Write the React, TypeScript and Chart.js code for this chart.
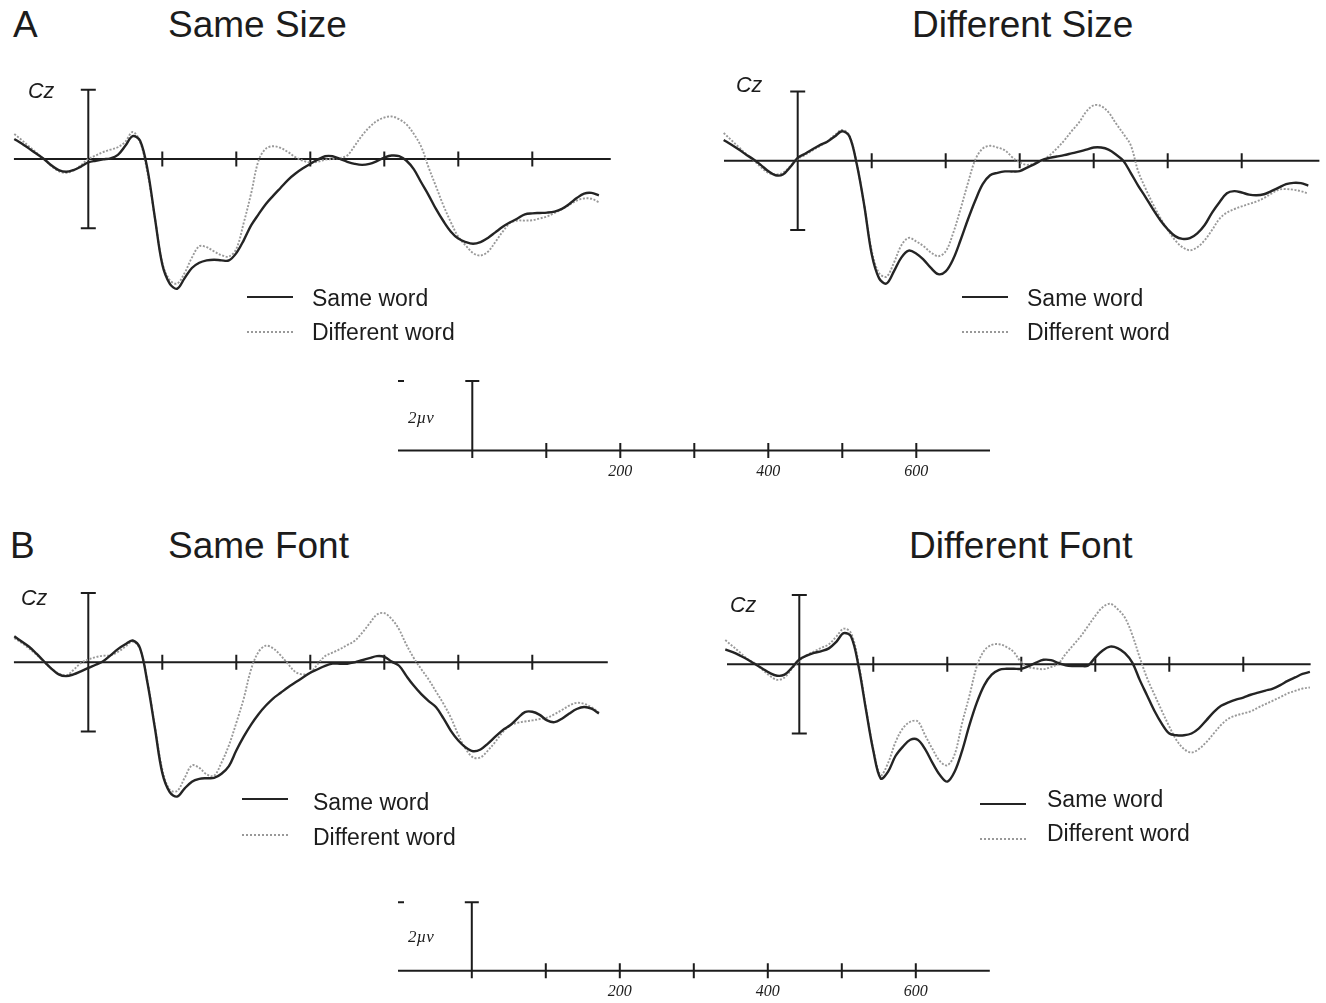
import React, { useEffect, useRef } from "react";
import { Chart, registerables } from "chart.js";
Chart.register(...registerables);

// ---------- data ----------
const timesMs = [
  -100, -90, -80, -70, -60, -50, -40, -30, -20, -10,
  0, 10, 20, 30, 40, 50, 60, 70, 80, 90,
  100, 110, 120, 130, 140, 150, 160, 170, 180, 190,
  200, 210, 220, 230, 240, 250, 260, 270, 280, 290,
  300, 310, 320, 330, 340, 350, 360, 370, 380, 390,
  400, 410, 420, 430, 440, 450, 460, 470, 480, 490,
  500, 510, 520, 530, 540, 550, 560, 570, 580, 590,
  600, 610, 620, 630, 640, 650, 660, 670, 680, 690,
];
const axisTicksMs = [100, 200, 300, 400, 500, 600];
const scaleTickLabels = [200, 400, 600];
const seriesNames = ["Same word", "Different word"];

const sameSizeSameWord = [
  0.58, 0.45, 0.3, 0.15, 0.0, -0.18, -0.32, -0.37, -0.32, -0.22,
  -0.1, -0.05, -0.01, 0.02, 0.12, 0.38, 0.66, 0.53, -0.3, -1.7,
  -3.05, -3.6, -3.75, -3.45, -3.15, -3.0, -2.93, -2.91, -2.93, -2.93,
  -2.72, -2.35, -1.92, -1.6, -1.3, -1.06, -0.83, -0.6, -0.42, -0.27,
  -0.14, -0.02, 0.08, 0.08, 0.0, -0.08, -0.14, -0.17, -0.14, -0.06,
  0.04, 0.1, 0.08, -0.05, -0.3, -0.68, -1.05, -1.45, -1.8, -2.1,
  -2.3, -2.4, -2.45, -2.4, -2.28, -2.12, -1.96, -1.83, -1.72, -1.6,
  -1.57, -1.56, -1.55, -1.52, -1.44, -1.3, -1.13, -1.0, -0.98, -1.05,
];
const sameSizeDiffWord = [
  0.72, 0.55, 0.36, 0.18, 0.0, -0.2, -0.35, -0.4, -0.33, -0.18,
  0.0, 0.1, 0.2, 0.27, 0.34, 0.5, 0.78, 0.5, -0.4, -1.7,
  -3.0, -3.5, -3.6, -3.3, -2.85, -2.52, -2.55, -2.67, -2.78, -2.82,
  -2.6, -1.85, -1.0, -0.05, 0.3, 0.37, 0.32, 0.2, 0.05, -0.05,
  -0.1, -0.08, -0.02, 0.0, 0.03, 0.1, 0.38, 0.68, 0.92, 1.1,
  1.2, 1.23, 1.15, 1.0, 0.72, 0.35, -0.25, -0.8, -1.35, -1.83,
  -2.25, -2.5, -2.72, -2.79, -2.68, -2.4, -2.1, -1.85, -1.78, -1.78,
  -1.77, -1.72, -1.66, -1.56, -1.45, -1.33, -1.2, -1.14, -1.15, -1.25,
];
const diffSizeSameWord = [
  0.6, 0.47, 0.33, 0.18, 0.04, -0.12, -0.3, -0.42, -0.4, -0.18,
  0.08, 0.2, 0.33, 0.45, 0.55, 0.7, 0.85, 0.7, -0.12, -1.3,
  -2.7, -3.4, -3.55, -3.2, -2.8, -2.6, -2.68, -2.86, -3.1, -3.28,
  -3.2, -2.85, -2.3, -1.7, -1.15, -0.68, -0.42, -0.35, -0.31, -0.31,
  -0.3, -0.2, -0.1, 0.02, 0.08, 0.12, 0.16, 0.21, 0.26, 0.32,
  0.38, 0.38, 0.32, 0.18, 0.0, -0.35, -0.72, -1.05, -1.4, -1.72,
  -1.98, -2.18, -2.26, -2.24, -2.1, -1.86, -1.5, -1.2, -0.94, -0.88,
  -0.92, -0.98, -1.0, -0.97, -0.88, -0.78, -0.68, -0.64, -0.65, -0.72,
];
const diffSizeDiffWord = [
  0.8, 0.6, 0.4, 0.2, 0.02, -0.18, -0.35, -0.4, -0.35, -0.16,
  0.05, 0.17, 0.3, 0.42, 0.56, 0.74, 0.89, 0.72, -0.1, -1.3,
  -2.6, -3.25, -3.35, -2.95, -2.45, -2.23, -2.33, -2.47, -2.65, -2.76,
  -2.62, -2.1, -1.4, -0.65, 0.03, 0.35, 0.43, 0.38, 0.3, 0.1,
  -0.05, -0.12, -0.08, 0.0, 0.15, 0.35, 0.58, 0.85, 1.1, 1.42,
  1.6, 1.58, 1.4, 1.08, 0.78, 0.45, -0.3, -0.8, -1.25, -1.65,
  -2.0, -2.3, -2.5, -2.59, -2.5, -2.3, -2.0, -1.68, -1.5, -1.4,
  -1.32, -1.25, -1.18, -1.08, -0.95, -0.84, -0.82, -0.84, -0.88, -0.95,
];
const sameFontSameWord = [
  0.75, 0.6, 0.45, 0.25, 0.03, -0.18, -0.35, -0.4, -0.35, -0.26,
  -0.16, -0.07, 0.03, 0.2, 0.38, 0.52, 0.63, 0.4, -0.6, -1.9,
  -3.2, -3.75, -3.88, -3.65, -3.45, -3.37, -3.35, -3.34, -3.22, -3.0,
  -2.55, -2.15, -1.8, -1.5, -1.25, -1.04, -0.88, -0.72, -0.58, -0.44,
  -0.3, -0.2, -0.1, -0.04, -0.04, -0.04, 0.0, 0.06, 0.12, 0.18,
  0.16, 0.02, -0.1, -0.4, -0.68, -0.92, -1.12, -1.3, -1.62, -1.98,
  -2.26, -2.46, -2.57, -2.52, -2.35, -2.15, -1.96, -1.82, -1.62, -1.44,
  -1.43, -1.52, -1.68, -1.73, -1.63, -1.48, -1.35, -1.29, -1.34, -1.48,
];
const sameFontDiffWord = [
  0.7, 0.56, 0.4, 0.22, 0.02, -0.18, -0.32, -0.38, -0.22, -0.02,
  0.08, 0.15, 0.19, 0.2, 0.3, 0.45, 0.6, 0.38, -0.55, -1.85,
  -3.1, -3.68, -3.72, -3.35, -2.98, -3.05, -3.24, -3.28, -2.9, -2.4,
  -1.75, -1.05, -0.2, 0.3, 0.48, 0.4, 0.2, -0.05, -0.28, -0.35,
  -0.3, -0.05, 0.18, 0.28, 0.38, 0.5, 0.62, 0.85, 1.12, 1.38,
  1.42, 1.25, 0.95, 0.5, 0.12, -0.2, -0.5, -0.85, -1.2, -1.6,
  -2.1, -2.5, -2.75, -2.75, -2.55, -2.3, -2.02, -1.82, -1.75, -1.71,
  -1.68, -1.64, -1.6, -1.5, -1.38, -1.25, -1.17, -1.2, -1.3, -1.45,
];
const diffFontSameWord = [
  0.43, 0.35, 0.25, 0.14, 0.01, -0.12, -0.25, -0.33, -0.3, -0.1,
  0.14, 0.25, 0.33, 0.38, 0.46, 0.65, 0.9, 0.8, -0.05, -1.3,
  -2.5, -3.3, -3.1, -2.65, -2.38, -2.18, -2.18, -2.45, -2.85, -3.2,
  -3.39, -3.1, -2.5, -1.75, -1.1, -0.6, -0.3, -0.16, -0.13, -0.13,
  -0.13, -0.05, 0.05, 0.13, 0.12, 0.04, -0.03, -0.05, -0.05, -0.04,
  0.2, 0.4, 0.51, 0.47, 0.32, 0.05, -0.45, -0.9, -1.35, -1.72,
  -2.0, -2.05, -2.05, -2.0, -1.85, -1.62, -1.38, -1.2, -1.1, -1.02,
  -0.96, -0.88, -0.82, -0.76, -0.7, -0.6, -0.48, -0.38, -0.28, -0.22,
];
const diffFontDiffWord = [
  0.7, 0.52, 0.34, 0.15, 0.03, -0.15, -0.33, -0.45, -0.38, -0.13,
  0.1, 0.26, 0.37, 0.48, 0.58, 0.8, 1.03, 0.9, 0.05, -1.25,
  -2.45, -3.2, -2.85, -2.25, -1.85, -1.66, -1.65, -2.05, -2.45, -2.8,
  -2.92, -2.6, -1.7, -0.9, -0.05, 0.4, 0.56, 0.58, 0.5, 0.35,
  0.05, -0.08, -0.12, -0.14, -0.08, 0.02, 0.3, 0.55, 0.8, 1.1,
  1.4, 1.65, 1.75, 1.6, 1.35, 0.85, 0.2, -0.4, -0.88, -1.35,
  -1.8, -2.2, -2.45, -2.55, -2.45, -2.25, -2.0, -1.75, -1.57, -1.48,
  -1.42, -1.36, -1.25, -1.15, -1.05, -0.95, -0.84, -0.77, -0.7, -0.67,
];

// ---------- styling / layout ----------
const PX_PER_MS = 0.74;
const INK = "#1c1c1c";
const SOLID = "#242424";
const DOTTED = "#999999";
const SANS = '"Liberation Sans", Arial, sans-serif';
const SERIF = '"Liberation Serif", "Times New Roman", serif';

type Geo = {
  zeroX: number;
  baseY: number;
  pxPerUv: number;
  upUv: number;
  downUv: number;
  axisStart: number;
  axisEnd: number;
};

type PanelCfg = Geo & {
  kind: "erp" | "scale";
  same?: number[];
  diff?: number[];
};

const panels: PanelCfg[] = [
  { kind: "erp", zeroX: 88.3, baseY: 159, pxPerUv: 34.6, upUv: 2.4, downUv: 4.4, axisStart: -100.5, axisEnd: 706, same: sameSizeSameWord, diff: sameSizeDiffWord },
  { kind: "erp", zeroX: 797.7, baseY: 160.7, pxPerUv: 34.6, upUv: 2.4, downUv: 4.4, axisStart: -99.6, axisEnd: 705, same: diffSizeSameWord, diff: diffSizeDiffWord },
  { kind: "scale", zeroX: 472.3, baseY: 450.5, pxPerUv: 34.75, upUv: 2.4, downUv: 1.2, axisStart: -100.4, axisEnd: 699.6 },
  { kind: "erp", zeroX: 88.3, baseY: 662.3, pxPerUv: 34.6, upUv: 2.4, downUv: 4.4, axisStart: -100.5, axisEnd: 702, same: sameFontSameWord, diff: sameFontDiffWord },
  { kind: "erp", zeroX: 799.3, baseY: 664.3, pxPerUv: 34.6, upUv: 2.4, downUv: 4.4, axisStart: -97.7, axisEnd: 691, same: diffFontSameWord, diff: diffFontDiffWord },
  { kind: "scale", zeroX: 471.8, baseY: 970.7, pxPerUv: 34.2, upUv: 2.4, downUv: 0.95, axisStart: -99.7, axisEnd: 700 },
];

function geometry(p: Geo) {
  const L = Math.floor(p.zeroX - 110 * PX_PER_MS);
  const R = Math.min(1326, Math.ceil(p.zeroX + 712 * PX_PER_MS));
  const T = Math.floor(p.baseY - p.upUv * p.pxPerUv);
  const B = Math.min(1003, Math.ceil(p.baseY + p.downUv * p.pxPerUv));
  return {
    L, T, W: R - L, H: B - T,
    xmin: (L - p.zeroX) / PX_PER_MS,
    xmax: (R - p.zeroX) / PX_PER_MS,
    ymax: (p.baseY - T) / p.pxPerUv,
    ymin: -(B - p.baseY) / p.pxPerUv,
  };
}

function makeAxesPlugin(p: PanelCfg) {
  return {
    id: "erpAxes",
    beforeDatasetsDraw(chart: any) {
      const { ctx } = chart;
      const x = chart.scales.x;
      const y = chart.scales.y;
      const y0 = y.getPixelForValue(0);
      const xz = x.getPixelForValue(0);
      ctx.save();
      ctx.strokeStyle = INK;
      ctx.lineWidth = 2;
      ctx.lineCap = "butt";
      ctx.beginPath();
      ctx.moveTo(x.getPixelForValue(p.axisStart), y0);
      ctx.lineTo(x.getPixelForValue(p.axisEnd), y0);
      for (const t of axisTicksMs) {
        const px = x.getPixelForValue(t);
        ctx.moveTo(px, y0 - 7.5);
        ctx.lineTo(px, y0 + 7.5);
      }
      if (p.kind === "erp") {
        const top = y.getPixelForValue(2);
        const bot = y.getPixelForValue(-2);
        ctx.moveTo(xz, top);
        ctx.lineTo(xz, bot);
        ctx.moveTo(xz - 7.5, top);
        ctx.lineTo(xz + 7.5, top);
        ctx.moveTo(xz - 7.5, bot);
        ctx.lineTo(xz + 7.5, bot);
      } else {
        const top = y.getPixelForValue(2);
        ctx.moveTo(xz, top);
        ctx.lineTo(xz, y0 + 7.5);
        ctx.moveTo(xz - 7, top);
        ctx.lineTo(xz + 7, top);
        const dx = x.getPixelForValue(p.axisStart);
        ctx.moveTo(dx, top);
        ctx.lineTo(dx + 6, top);
      }
      ctx.stroke();
      if (p.kind === "scale") {
        ctx.fillStyle = INK;
        ctx.font = `italic 16px ${SERIF}`;
        ctx.textAlign = "center";
        ctx.textBaseline = "alphabetic";
        for (const v of scaleTickLabels) {
          ctx.fillText(String(v), x.getPixelForValue(v), y0 + 25);
        }
      }
      ctx.restore();
    },
  };
}

function PanelChart({ p }: { p: PanelCfg }) {
  const ref = useRef<HTMLCanvasElement>(null);
  const g = geometry(p);
  useEffect(() => {
    const canvas = ref.current;
    if (!canvas) return;
    const datasets: any[] = [];
    if (p.kind === "erp" && p.same && p.diff) {
      datasets.push({
        label: seriesNames[0],
        data: timesMs.map((t, i) => ({ x: t, y: p.same![i] })),
        borderColor: SOLID,
        borderWidth: 2.4,
        pointRadius: 0,
        tension: 0.35,
        fill: false,
      });
      datasets.push({
        label: seriesNames[1],
        data: timesMs.map((t, i) => ({ x: t, y: p.diff![i] })),
        borderColor: DOTTED,
        borderWidth: 1.9,
        borderDash: [2, 1.6],
        pointRadius: 0,
        tension: 0.35,
        fill: false,
      });
    }
    const chart = new Chart(canvas, {
      type: "line",
      data: { datasets },
      options: {
        responsive: false,
        animation: false,
        events: [],
        layout: { padding: 0 },
        scales: {
          x: { type: "linear", min: g.xmin, max: g.xmax, display: false },
          y: { type: "linear", min: g.ymin, max: g.ymax, display: false },
        },
        plugins: { legend: { display: false }, tooltip: { enabled: false } },
      },
      plugins: [makeAxesPlugin(p)],
    } as any);
    return () => chart.destroy();
  }, []);
  return (
    <canvas
      ref={ref}
      width={g.W}
      height={g.H}
      style={{ position: "absolute", left: g.L, top: g.T, width: g.W, height: g.H }}
    />
  );
}

function Txt({ x, base, size, children, italic, family }: any) {
  const fam = family || SANS;
  const ratio = fam === SERIF ? 0.8375 : 0.8465;
  return (
    <div
      style={{
        position: "absolute",
        left: x,
        top: base - ratio * size,
        fontSize: size,
        lineHeight: 1,
        fontFamily: fam,
        fontStyle: italic ? "italic" : "normal",
        color: INK,
        whiteSpace: "nowrap",
      }}
    >
      {children}
    </div>
  );
}

function LegendLine({ x, y, dotted }: { x: number; y: number; dotted?: boolean }) {
  return (
    <div
      style={{
        position: "absolute",
        left: x,
        top: y - 1,
        width: 46,
        height: 0,
        borderTop: dotted ? `2px dotted ${DOTTED}` : `2px solid ${SOLID}`,
      }}
    />
  );
}

const legends = [
  { lx: 247, tx: 312, y1: 297, b1: 306, y2: 332, b2: 340.7 },
  { lx: 962, tx: 1027, y1: 296.5, b1: 306, y2: 332, b2: 340.7 },
  { lx: 242, tx: 313, y1: 798.5, b1: 810, y2: 835, b2: 845 },
  { lx: 980, tx: 1047, y1: 804, b1: 807.3, y2: 839, b2: 841.7 },
];

export default function App() {
  return (
    <div
      style={{
        position: "absolute",
        left: 0,
        top: 0,
        width: 1326,
        height: 1003,
        overflow: "hidden",
        background: "#ffffff",
      }}
    >
      {panels.map((p, i) => (
        <PanelChart key={i} p={p} />
      ))}

      <Txt x={13} base={37.5} size={37}>A</Txt>
      <Txt x={168} base={37.5} size={37}>Same Size</Txt>
      <Txt x={912} base={37.5} size={37}>Different Size</Txt>
      <Txt x={10} base={558.5} size={37}>B</Txt>
      <Txt x={168} base={558.5} size={37}>Same Font</Txt>
      <Txt x={909} base={558.5} size={37}>Different Font</Txt>

      <Txt x={28} base={99.5} size={21.5} italic>Cz</Txt>
      <Txt x={736} base={93.5} size={21.5} italic>Cz</Txt>
      <Txt x={21} base={606} size={21.5} italic>Cz</Txt>
      <Txt x={730} base={613.5} size={21.5} italic>Cz</Txt>

      {legends.map((l, i) => (
        <React.Fragment key={i}>
          <LegendLine x={l.lx} y={l.y1} />
          <LegendLine x={l.lx} y={l.y2} dotted />
          <Txt x={l.tx} base={l.b1} size={23}>{seriesNames[0]}</Txt>
          <Txt x={l.tx} base={l.b2} size={23}>{seriesNames[1]}</Txt>
        </React.Fragment>
      ))}

      <Txt x={408} base={423} size={17} italic family={SERIF}>2µv</Txt>
      <Txt x={408} base={942} size={17} italic family={SERIF}>2µv</Txt>
    </div>
  );
}
